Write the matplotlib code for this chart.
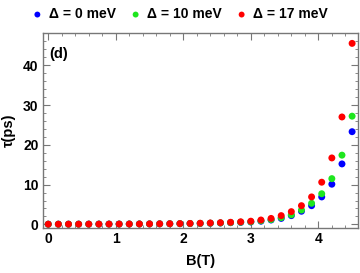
import matplotlib
matplotlib.use("Agg")
import matplotlib.pyplot as plt
from matplotlib.ticker import MultipleLocator

plt.rcParams['font.family'] = ['Liberation Sans', 'DejaVu Sans']
plt.rcParams['font.weight'] = 'bold'

# magnetic field (T)
B = [round(0.15 * i, 2) for i in range(31)]

# relaxation time tau (ps) for each Delta
tau_0 = [0.05, 0.05, 0.05, 0.06, 0.06, 0.07, 0.07, 0.08, 0.09, 0.10,
         0.11, 0.13, 0.15, 0.17, 0.20, 0.23, 0.28, 0.34, 0.42, 0.50,
         0.60, 0.80, 1.1, 1.5, 2.2, 3.3, 4.7, 6.9, 10.1, 15.2, 23.3]
tau_10 = [0.05, 0.05, 0.05, 0.06, 0.06, 0.07, 0.07, 0.08, 0.09, 0.10,
          0.11, 0.13, 0.15, 0.18, 0.21, 0.25, 0.30, 0.36, 0.45, 0.55,
          0.65, 0.90, 1.2, 1.7, 2.4, 3.6, 5.3, 7.7, 11.5, 17.4, 27.2]
tau_17 = [0.05, 0.05, 0.06, 0.06, 0.07, 0.07, 0.08, 0.09, 0.10, 0.11,
          0.13, 0.15, 0.17, 0.20, 0.24, 0.29, 0.35, 0.43, 0.53, 0.65,
          0.80, 1.1, 1.5, 2.2, 3.2, 4.7, 6.9, 10.6, 16.7, 27.0, 45.5]

labels = ['Δ = 0 meV', 'Δ = 10 meV', 'Δ = 17 meV']
colors = ['#0000ff', '#1ee61e', '#ff0000']

fig = plt.figure(figsize=(3.6, 2.73), dpi=100)
ax = fig.add_axes([0.119, 0.165, 0.875, 0.714])

for y, c, lab in zip([tau_0, tau_10, tau_17], colors, labels):
    ax.scatter(B, y, s=25, color=c, edgecolors='none', label=lab, zorder=3)

ax.set_xlim(-0.08, 4.585)
ax.set_ylim(-0.9, 48.1)
ax.xaxis.set_major_locator(MultipleLocator(1))
ax.xaxis.set_minor_locator(MultipleLocator(0.2))
ax.yaxis.set_major_locator(MultipleLocator(10))
ax.yaxis.set_minor_locator(MultipleLocator(2))
ax.tick_params(which='both', direction='in', top=True, right=True,
               color='#777777', labelsize=10, pad=3)
ax.tick_params(which='major', length=5, width=0.8)
ax.tick_params(which='minor', length=2.5, width=0.6)
for sp in ax.spines.values():
    sp.set_color('#777777')
    sp.set_linewidth(1)

ax.set_xlabel('B(T)', fontsize=10.5, fontweight='bold', labelpad=6)
ax.set_ylabel('τ(ps)', fontsize=10.5, fontweight='bold', labelpad=5)
ax.text(0.02, 0.93, '(d)', transform=ax.transAxes, fontsize=10.5,
        fontweight='bold', va='top')

fig.legend(loc='center', bbox_to_anchor=(0.5, 0.948), ncol=3, frameon=False,
           fontsize=10, handlelength=0.8, handletextpad=0.45,
           columnspacing=1.0, markerscale=0.85, borderaxespad=0)

fig.savefig('out.png', dpi=100)
